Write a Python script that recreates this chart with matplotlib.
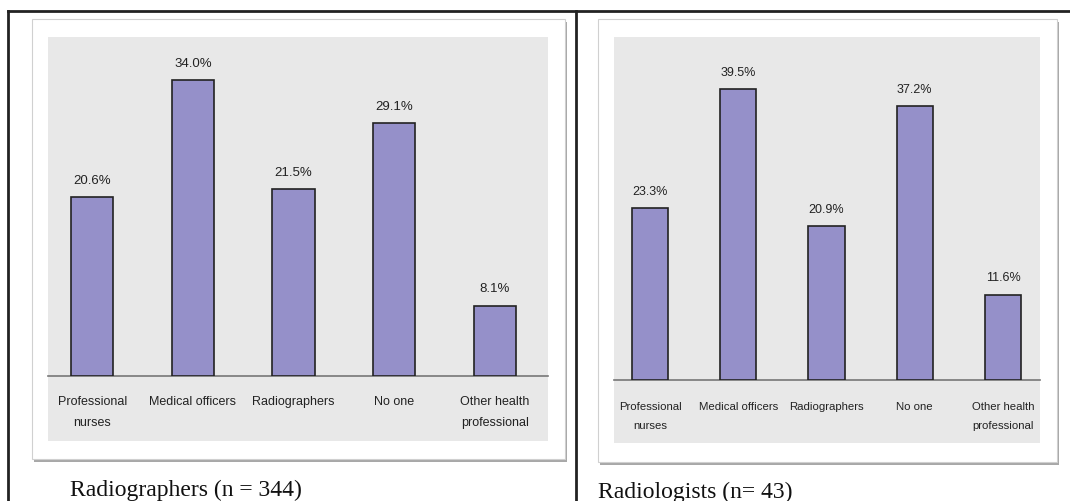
import matplotlib.pyplot as plt
from matplotlib.patches import Rectangle
from matplotlib.lines import Line2D

categories = ["Professional\nnurses", "Medical officers", "Radiographers",
              "No one", "Other health\nprofessional"]
radiographers = [20.6, 34.0, 21.5, 29.1, 8.1]
radiologists = [23.3, 39.5, 20.9, 37.2, 11.6]
captions = ["Radiographers (n = 344)", "Radiologists (n= 43)"]

W, H = 1070, 502
fig = plt.figure(figsize=(W / 100, H / 100), dpi=100)

sans = ['Liberation Sans', 'DejaVu Sans']
serif = ['Liberation Serif', 'DejaVu Serif']


def fx(px):
    return px / W


def fy(py):
    return 1 - py / H


def rect(x0, y0, x1, y1, **kw):
    fig.patches.append(Rectangle((fx(x0), fy(y1)), fx(x1 - x0), (y1 - y0) / H,
                                 transform=fig.transFigure, figure=fig, **kw))


# outer table lines
for (xa, ya, xb, yb) in [(8, 12, 1070, 12), (8, 12, 8, 502), (576, 12, 576, 502)]:
    fig.lines.append(Line2D([fx(xa), fx(xb)], [fy(ya), fy(yb)], color='#222222',
                            lw=2, transform=fig.transFigure, figure=fig))

panels = [
    dict(frame=(32, 20, 565, 460), gray=(48, 38, 548, 442), base=377,
         xlim=(-0.44, 4.53), width=0.42, vals=radiographers, cap=(70, 490),
         vfs=9.5, tfs=9, pad=14, ls=1.9),
    dict(frame=(598, 20, 1057, 463), gray=(614, 38, 1040, 444), base=381,
         xlim=(-0.41, 4.42), width=0.41, vals=radiologists, cap=(598, 492),
         vfs=9, tfs=8.2, pad=15, ls=2.1),
]

for i, p in enumerate(panels):
    x0, y0, x1, y1 = p['frame']
    rect(x0 + 2, y0 + 3, x1 + 2, y1 + 3, facecolor='#a8a8a8', edgecolor='none', zorder=0)
    rect(x0, y0, x1, y1, facecolor='white', edgecolor='#d0d0d0', lw=0.8, zorder=1)
    gx0, gy0, gx1, gy1 = p['gray']
    rect(gx0, gy0, gx1, gy1, facecolor='#e8e8e8', edgecolor='none', zorder=2)

    ax = fig.add_axes([fx(gx0), fy(p['base']), fx(gx1 - gx0), (p['base'] - gy0) / H])
    ax.set_zorder(5)
    ax.patch.set_visible(False)
    scale = 8.7 if i == 0 else 7.37
    ax.set_ylim(0, (p['base'] - gy0) / scale)
    ax.set_xlim(*p['xlim'])
    xs = range(len(categories))
    ax.bar(xs, p['vals'], width=p['width'], color='#9590c9', edgecolor='#222222',
           linewidth=1.2, zorder=3)
    for x, v in zip(xs, p['vals']):
        ax.annotate(f"{v:.1f}%", (x, v), xytext=(0, 8), textcoords='offset points',
                    ha='center', va='bottom', fontsize=p['vfs'], family=sans,
                    color='#222222')
    for s in ['top', 'right', 'left']:
        ax.spines[s].set_visible(False)
    ax.spines['bottom'].set_color('#777777')
    ax.spines['bottom'].set_linewidth(1.2)
    ax.set_yticks([])
    ax.set_xticks(list(xs))
    ax.set_xticklabels(categories, fontsize=p['tfs'], family=sans, color='#222222',
                       linespacing=p['ls'])
    ax.tick_params(axis='x', length=0, pad=p['pad'])

    cx, cy = p['cap']
    fig.text(fx(cx), fy(cy), captions[i], fontsize=17, family=serif,
             ha='left', va='center', color='#111111')

fig.savefig('out.png', dpi=100)
